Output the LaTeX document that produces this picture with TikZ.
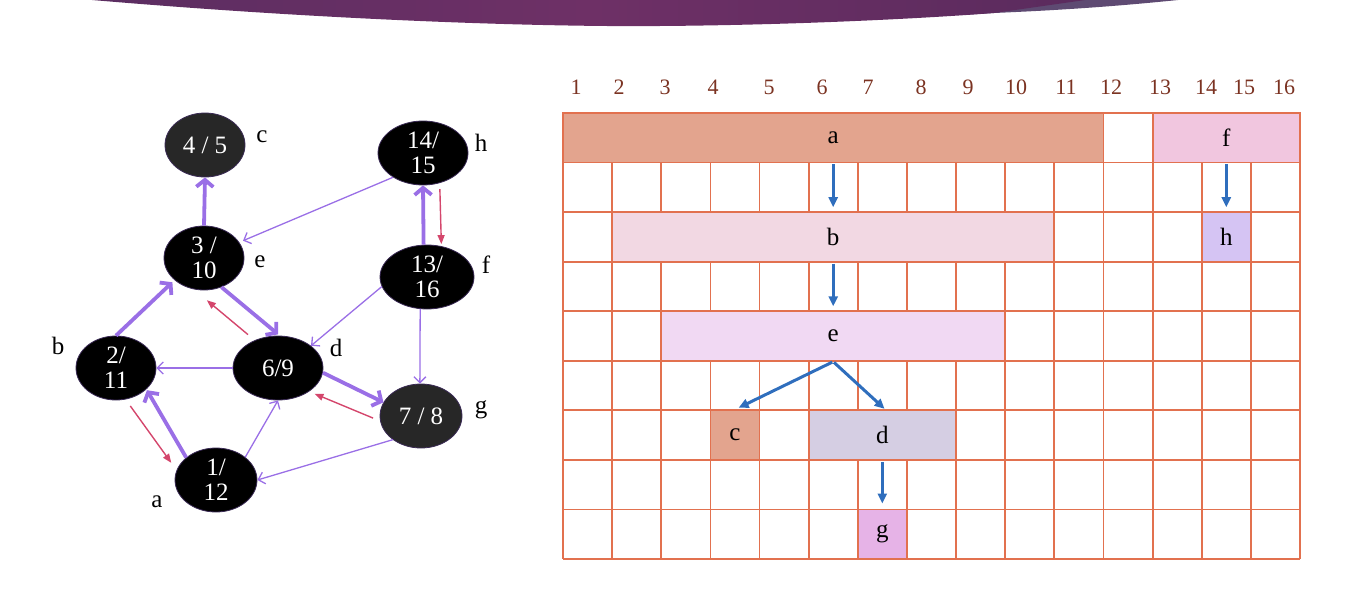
\documentclass[tikz,border=0pt]{standalone}
\usepackage{fontspec}
\setmainfont{Liberation Serif}
\usetikzlibrary{arrows.meta,shapes.geometric}
\definecolor{pur}{HTML}{9A6FE6}
\definecolor{redA}{HTML}{D4466C}
\definecolor{gridc}{HTML}{E2714F}
\definecolor{numc}{HTML}{7B3322}
\definecolor{blueA}{HTML}{2F6EBD}
\definecolor{nodegray}{HTML}{272727}
\definecolor{nodeedge}{HTML}{3A2A55}
\definecolor{banA}{HTML}{4E2C5E}
\definecolor{banB}{HTML}{6E3066}
\definecolor{banC}{HTML}{3F2452}
\definecolor{banL}{HTML}{5E4A72}
\definecolor{fa}{HTML}{E3A48E}
\definecolor{ff}{HTML}{F1C6DF}
\definecolor{fb}{HTML}{F2D8E3}
\definecolor{fh}{HTML}{D5C4F3}
\definecolor{fe}{HTML}{F1D9F3}
\definecolor{fd}{HTML}{D5CEE3}
\definecolor{fg}{HTML}{E6B3E7}
\pgfdeclarehorizontalshading{banshade}{100bp}{color(0bp)=(banA); color(20bp)=(banA!70!banB); color(50bp)=(banB); color(80bp)=(banB!50!banC); color(100bp)=(banC)}
\tikzset{
  gnode/.style={ellipse, fill=black, draw=nodeedge, line width=0.8, text=white,
    inner sep=0pt, align=center, font=\fontsize{25}{25}\selectfont},
  glabel/.style={font=\fontsize{25}{26}\selectfont, inner sep=0pt},
  tree/.style={draw=pur, line width=3.8, -{Straight Barb[length=7pt,width=17pt]}},
  thin/.style={draw=pur, line width=1.3, -{Straight Barb[length=6pt,width=12pt]}},
  back/.style={draw=redA, line width=1.4, -{Triangle[length=9pt,width=7pt]}},
  gridline/.style={draw=gridc, line width=1.8},
  bar/.style={draw=gridc, line width=1.8, inner sep=0pt, minimum height=49.56pt,
    font=\fontsize{25}{26}\selectfont},
  num/.style={text=numc, font=\fontsize{22}{24}\selectfont, inner sep=0pt},
  blue/.style={draw=blueA, line width=3, -{Triangle[length=10pt,width=9pt]}}
}
\begin{document}
\begin{tikzpicture}[x=1pt,y=-1pt]
\useasboundingbox (0,0) rectangle (1372,610);
% banner
\fill[banL] (970,0) -- (1178,0) .. controls (1100,8) and (1040,11) .. (994,13) -- (970,14.5) -- cycle;
\path[shading=banshade]
  (92,0) .. controls (350,22) and (560,27) .. (660,26)
  .. controls (800,25) and (930,18) .. (994,13) -- (1085,0) -- cycle;

% graph nodes
\node[gnode, fill=nodegray, minimum width=80pt, minimum height=64pt] (c) at (205,145) {4 / 5};
\node[gnode, minimum width=90pt, minimum height=64pt] (h) at (423,153) {14/\\15};
\node[gnode, minimum width=80pt, minimum height=64pt] (e) at (204,258) {3 /\\10};
\node[gnode, minimum width=94pt, minimum height=64pt] (f) at (427,277) {13/\\16};
\node[gnode, minimum width=80pt, minimum height=64pt] (b) at (116,368) {2/\\11};
\node[gnode, minimum width=90pt, minimum height=64pt] (d) at (278,368) {6/9};
\node[gnode, fill=nodegray, minimum width=82pt, minimum height=64pt] (g) at (421,416) {7 / 8};
\node[gnode, minimum width=82pt, minimum height=64pt] (a) at (216,480) {1/\\12};

% labels
\node[glabel] (lc) at (262,137) {c};
\node[glabel] (lh) at (481,143) {h};
\node[glabel] (le) at (260,262) {e};
\node[glabel] (lf) at (486,265) {f};
\node[glabel] (lb) at (58,346) {b};
\node[glabel] (ld) at (336,348) {d};
\node[glabel] (lg) at (481,410) {g};
\node[glabel] (la) at (157,502) {a};

% graph edges
\draw[tree] (e.north) -- (c.south);
\draw[tree] (f.96) -- (h.-90);
\draw[back, shorten <=6pt, shorten >=2pt] (h.-61.5) -- (f.65.6);
\draw[thin, shorten >=4pt] (h.-141) -- (e.24);
\draw[tree, shorten >=3pt] (b.north) -- (e.-143);
\draw[tree, shorten >=2pt] (e.-59) -- (d.87);
\draw[back, shorten <=8.7pt, shorten >=17pt] (d.130.5) -- (e.-108);
\draw[thin] (f.-168) -- (d.34);
\draw[thin] (f.-102) -- (g.92);
\draw[thin] (d.west) -- (b.east);
\draw[tree] (d.-6) -- (g.160);
\draw[back, shorten <=7.6pt, shorten >=5.7pt] (g.-173) -- (d.-37.6);
\draw[thin] (g.-140) -- (a.east);
\draw[thin] (a.38) -- (d.south);
\draw[tree, shorten >=1pt] (a.143) -- (b.-35);
\draw[back, shorten <=8pt, shorten >=9pt] (b.-73) -- (a.166);

% grid
\foreach \i in {0,...,15} \draw[gridline] (563+\i*49.133,113) -- (563+\i*49.133,559);
\foreach \j in {0,...,9} \draw[gridline] (563,113+\j*49.56) -- (1300,113+\j*49.56);

% bars
\node[bar, fill=fa, minimum width=540.5pt] (ba) at (833.2,137.8) {a};
\node[bar, fill=ff, minimum width=147.4pt] (bf) at (1226.3,137.8) {f};
\node[bar, fill=fb, minimum width=442.2pt] (bb) at (833.2,236.9) {b};
\node[bar, fill=fh, minimum width=49.13pt] (bh) at (1226.3,236.9) {h};
\node[bar, fill=fe, minimum width=343.9pt] (be) at (833.2,336.0) {e};
\node[bar, fill=fa, minimum width=49.13pt] (bc) at (735.0,435.2) {c};
\node[bar, fill=fd, minimum width=147.4pt] (bd) at (882.3,435.2) {d};
\node[bar, fill=fg, minimum width=49.13pt] (bg) at (882.3,534.2) {g};

% blue arrows
\draw[blue, shorten <=1pt, shorten >=4pt] (ba.south) -- (bb.north);
\draw[blue, shorten <=1pt, shorten >=4pt] (bf.south) -- (bh.north);
\draw[blue, shorten <=1pt, shorten >=4pt] (bb.south) -- (be.north);
\draw[blue, shorten <=1pt, shorten >=4pt] (be.south) -- (bc.north);
\draw[blue, shorten <=1pt, shorten >=1pt] (be.south) -- ([xshift=3pt]bd.north);
\draw[blue, shorten <=1pt, shorten >=5pt] (bd.south) -- (bg.north);

% numbers
\node[num] (n1) at (576,87) {1};
\node[num] (n2) at (619,87) {2};
\node[num] (n3) at (665,87) {3};
\node[num] (n4) at (713,87) {4};
\node[num] (n5) at (769,87) {5};
\node[num] (n6) at (822,87) {6};
\node[num] (n7) at (868,87) {7};
\node[num] (n8) at (921,87) {8};
\node[num] (n9) at (968,87) {9};
\node[num] (n10) at (1016,87) {10};
\node[num] (n11) at (1066,87) {11};
\node[num] (n12) at (1111,87) {12};
\node[num] (n13) at (1160,87) {13};
\node[num] (n14) at (1206,87) {14};
\node[num] (n15) at (1244,87) {15};
\node[num] (n16) at (1284,87) {16};
\end{tikzpicture}
\end{document}
